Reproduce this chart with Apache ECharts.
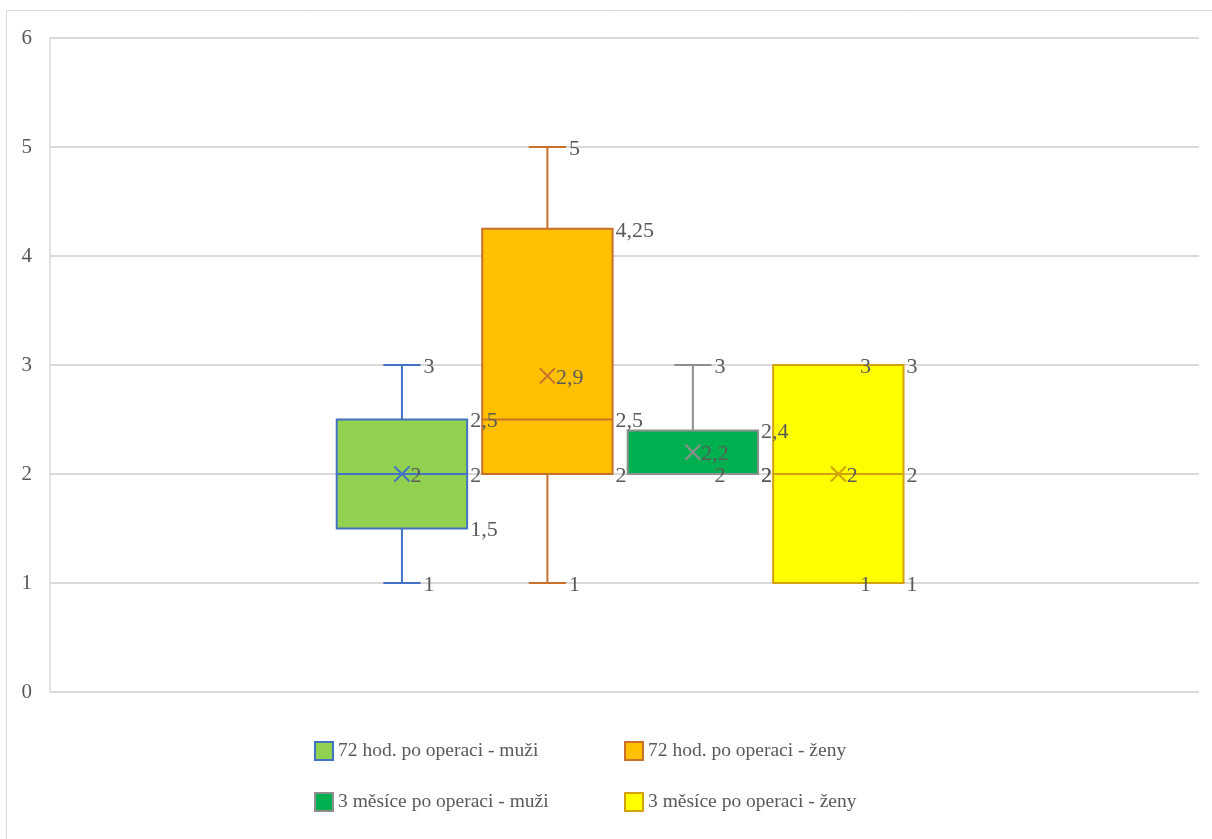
<!DOCTYPE html>
<html>
<head>
<meta charset="utf-8">
<script src="https://cdn.jsdelivr.net/npm/echarts@6/dist/echarts.min.js"></script>
<style>html,body{margin:0;padding:0;background:#fff}#c{width:1212px;height:839px}</style>
</head>
<body>
<div id="c"></div>
<script>
// Data
const seriesNames = ['72 hod. po operaci - muži', '72 hod. po operaci - ženy', '3 měsíce po operaci - muži', '3 měsíce po operaci - ženy'];
// [min, q1, median, q3, max]
const s1Box = [1, 1.5, 2, 2.5, 3];
const s2Box = [1, 2, 2.5, 4.25, 5];
const s3Box = [2, 2, 2, 2.4, 3];
const s4Box = [1, 1, 2, 3, 3];
const means = [2, 2.9, 2.2, 2];
const yTicks = [0, 1, 2, 3, 4, 5, 6];

const boxes = [s1Box, s2Box, s3Box, s4Box];
const fills = ['#92D050', '#FFC000', '#00B050', '#FFFF00'];
const borders = ['#4472C4', '#C8702C', '#8F8F8F', '#D4A20C'];
const FONT = "'Liberation Serif', 'Times New Roman', serif";
const LBL = '#595959';

function fmt(v) { return String(v).replace('.', ','); }

function makeRender(k) {
  return function (params, api) {
    const base = api.coord([0, 0]);
    const band = api.size([1, 0])[0];
    const cx = base[0] + (k - 1.5) * band * 0.1266 - band * 0.0038;
    const bw = band * 0.1135;
    const cap = band * 0.0162;
    const v = [api.value(1), api.value(2), api.value(3), api.value(4), api.value(5)];
    const mean = api.value(6);
    const y = v.map(x => api.coord([0, x])[1]);
    const ym = api.coord([0, mean])[1];
    const col = borders[k];
    const ls = { stroke: col, lineWidth: 2 };
    const children = [];
    // whiskers
    if (v[4] !== v[3]) {
      children.push({ type: 'line', shape: { x1: cx, y1: y[4], x2: cx, y2: y[3] }, style: ls });
      children.push({ type: 'line', shape: { x1: cx - cap, y1: y[4], x2: cx + cap, y2: y[4] }, style: ls });
    }
    if (v[0] !== v[1]) {
      children.push({ type: 'line', shape: { x1: cx, y1: y[1], x2: cx, y2: y[0] }, style: ls });
      children.push({ type: 'line', shape: { x1: cx - cap, y1: y[0], x2: cx + cap, y2: y[0] }, style: ls });
    }
    // box
    children.push({ type: 'rect', shape: { x: cx - bw / 2, y: y[3], width: bw, height: y[1] - y[3] }, style: { fill: fills[k], stroke: col, lineWidth: 2 } });
    // median
    children.push({ type: 'line', z2: 5, shape: { x1: cx - bw / 2, y1: y[2], x2: cx + bw / 2, y2: y[2] }, style: ls });
    // mean X
    const m = 7.5;
    children.push({ type: 'line', z2: 6, shape: { x1: cx - m, y1: ym - m, x2: cx + m, y2: ym + m }, style: ls });
    children.push({ type: 'line', z2: 6, shape: { x1: cx - m, y1: ym + m, x2: cx + m, y2: ym - m }, style: ls });
    // labels
    const ts = (x, yy, val) => ({ type: 'text', z2: 100, style: { x: x, y: yy + 2, text: fmt(val), fill: LBL, font: '22px ' + FONT, align: 'left', verticalAlign: 'middle' } });
    const capEnd = cx + cap + 3;
    const boxEnd = cx + bw / 2 + 3;
    children.push(ts(capEnd, y[4], v[4]));
    children.push(ts(boxEnd, y[3], v[3]));
    children.push(ts(boxEnd, y[2], v[2]));
    children.push(ts(boxEnd, y[1], v[1]));
    children.push(ts(capEnd, y[0], v[0]));
    children.push(ts(cx + m + 1, ym, mean));
    return { type: 'group', children: children };
  };
}

const series = boxes.map((b, k) => ({
  name: seriesNames[k],
  type: 'custom',
  renderItem: makeRender(k),
  itemStyle: { color: fills[k], borderColor: borders[k], borderWidth: 2 },
  encode: { x: 0, y: [1, 2, 3, 4, 5] },
  data: [[0, b[0], b[1], b[2], b[3], b[4], means[k]]],
  z: 2
}));

const legendPos = [[309, 736], [619, 736], [309, 787], [619, 787]];
const legends = seriesNames.map((n, k) => ({
  data: [{ name: n, icon: 'rect', itemStyle: { color: fills[k], borderColor: borders[k], borderWidth: 2 } }],
  left: legendPos[k][0], top: legendPos[k][1],
  itemWidth: 18, itemHeight: 18, itemGap: 4,
  selectedMode: false,
  textStyle: { color: LBL, fontFamily: FONT, fontSize: 19.5 }
}));

const chart = echarts.init(document.getElementById('c'), null, { renderer: 'canvas' });
chart.setOption({
  animation: false,
  backgroundColor: '#fff',
  grid: { left: 50, right: 13, top: 38, bottom: 147, containLabel: false },
  xAxis: { type: 'category', data: [''], axisLine: { show: false }, axisTick: { show: false }, axisLabel: { show: false }, splitLine: { show: false } },
  yAxis: {
    type: 'value', min: yTicks[0], max: yTicks[yTicks.length - 1], interval: 1,
    axisLine: { show: true, lineStyle: { color: '#D9D9D9', width: 1.5 } },
    axisTick: { show: false },
    axisLabel: { color: LBL, fontFamily: FONT, fontSize: 21, margin: 18 },
    splitLine: { show: true, lineStyle: { color: '#D9D9D9', width: 2 } }
  },
  legend: legends,
  graphic: [{ type: 'rect', silent: true, z: -10, shape: { x: 6.5, y: 10.5, width: 1220, height: 840 }, style: { fill: null, stroke: '#D9D9D9', lineWidth: 1 } }],
  series: series
});
</script>
</body>
</html>
